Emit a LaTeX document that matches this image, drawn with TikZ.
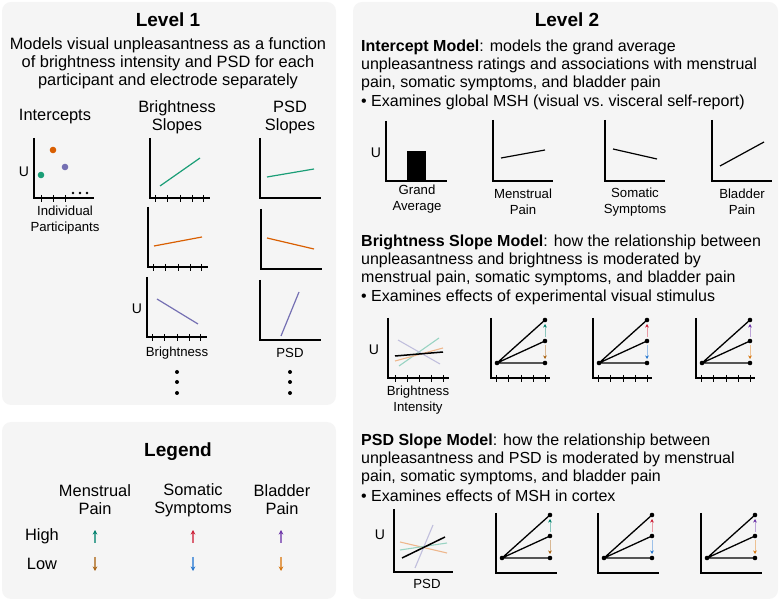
\documentclass[tikz,border=0pt]{standalone}
\usepackage{fontspec}
\setmainfont{Liberation Sans}
\usetikzlibrary{arrows.meta,calc,positioning}
\definecolor{panel}{RGB}{245,245,245}
\definecolor{dgreen}{RGB}{27,158,119}
\definecolor{dorange}{RGB}{217,95,2}
\definecolor{dpurple}{RGB}{117,112,179}
\definecolor{mhigh}{RGB}{0,128,108}
\definecolor{mlow}{RGB}{168,98,18}
\definecolor{shigh}{RGB}{204,32,56}
\definecolor{slow}{RGB}{38,118,206}
\definecolor{bhigh}{RGB}{108,52,168}
\definecolor{blow}{RGB}{214,118,16}
\tikzset{
  ttl/.style={font=\fontsize{19}{22}\selectfont\bfseries},
  txt/.style={font=\fontsize{16.4}{18}\selectfont,align=center},
  para/.style={font=\fontsize{16}{18.4}\selectfont,anchor=west,inner sep=0pt},
  lab/.style={font=\fontsize{13.2}{15.5}\selectfont,align=center},
  ulab/.style={font=\fontsize{14}{16}\selectfont},
  axln/.style={line width=1.6pt},
  tickln/.style={line width=0.9pt},
  dataln/.style={line width=1.2pt},
  fanln/.style={line width=1.3pt},
  pale/.style={line width=1.1pt,#1!45},
  fanarrow/.style={-{Stealth[length=3.5pt,width=3.5pt,color=#1]},#1!45,line width=1pt},
  legarrow/.style={-{Stealth[length=4.5pt,width=4.5pt,color=#1]},#1!70,line width=1.1pt}}
% L-shaped axes with three fanned lines and the two moderator arrows
\newcommand{\fanplot}[6]{%
  \draw[axln] (#1,#2-60) |- (#1+#3,#2);
  \ifnum#6=1 \foreach \t in {5,17,30,42,54} \draw[tickln] (#1+\t,#2-3) -- (#1+\t,#2+4);\fi
  \coordinate (fo) at (#1+6,#2-15); \coordinate (ft) at (#1+54,#2-58);
  \coordinate (fm) at (#1+54,#2-37); \coordinate (fb) at (#1+54,#2-15);
  \draw[fanln] (fo) -- (ft) (fo) -- (fm) (fo) -- (fb);
  \foreach \p in {fo,ft,fm,fb} \fill (\p) circle (2.3);
  \draw[fanarrow=#4] ($(fm)+(0,-4)$) -- ($(ft)+(0,4)$);
  \draw[fanarrow=#5] ($(fm)+(0,4)$) -- ($(fb)+(0,-4)$);}

\begin{document}
\begin{tikzpicture}[x=1pt,y=-1pt]
  \useasboundingbox (0,0) rectangle (780,601);
  \fill[panel,rounded corners=9pt] (2,2) rectangle (336,405);
  \fill[panel,rounded corners=9pt] (2,422) rectangle (336,599);
  \fill[panel,rounded corners=9pt] (353,2) rectangle (778,599);

  % Level 1
  \node[ttl] (lvla) at (168,20) {Level 1};
  \node[txt] (lvladesc) at (168,63) {Models visual unpleasantness as a function\\of brightness intensity and PSD for each\\participant and electrode separately};
  \node[txt] (icpt) at (55,117) {Intercepts};
  \node[txt] (bslp) at (177,117) {Brightness\\Slopes};
  \node[txt] (pslp) at (290,117) {PSD\\Slopes};
  \draw[axln] (34,138) |- (94,198);
  \foreach \x in {41,53,65} \draw[tickln] (\x,195) -- (\x,202);
  \foreach \x/\y/\c in {41/175/dgreen,53/150/dorange,65/167/dpurple} \fill[\c] (\x,\y) circle (3.3);
  \foreach \x in {73,80,87} \fill (\x,193) circle (1.4);
  \node[ulab] (icptu) at (24,172) {U};
  \node[lab] (indiv) at (65,220) {Individual\\Participants};
  \foreach \xo/\yo/\xa/\ya/\xb/\yb/\c in {150/198/160/186/200/158/dgreen,148/267/154/246/202/237/dorange,147/337/157/299/198/324/dpurple} {
    \draw[axln] (\xo,\yo-60) |- (\xo+60,\yo);
    \foreach \t in {5,17,30,42,53} \draw[tickln] (\xo+\t,\yo-3) -- (\xo+\t,\yo+4);
    \draw[dataln,\c] (\xa,\ya) -- (\xb,\yb);}
  \foreach \xo/\yo/\xa/\ya/\xb/\yb/\c in {260/198/267/177/314/169/dgreen,261/269/267/238/314/249/dorange,260/340/281/336/299/292/dpurple} {
    \draw[axln] (\xo,\yo-60) |- (\xo+61,\yo);
    \draw[dataln,\c] (\xa,\ya) -- (\xb,\yb);}
  \node[ulab] (bslpu) at (137,309) {U};
  \node[lab] (bslpx) at (177,353) {Brightness};
  \node[lab] (pslpx) at (290,353) {PSD};
  \foreach \x in {177,290} \foreach \y in {372,382,393} \fill (\x,\y) circle (2);

  % Legend
  \node[ttl] (lgd) at (178,452) {Legend};
  \foreach \x/\l/\n in {95/{Menstrual\\Pain}/mp,193/{Somatic\\Symptoms}/ss,282/{Bladder\\Pain}/bp} \node[txt] (\n) at (\x,500) {\l};
  \node[txt] (high) at (42,536) {High};
  \node[txt] (low) at (42,564) {Low};
  \foreach \x/\h/\l in {95/mhigh/mlow,193/shigh/slow,281/bhigh/blow} {
    \draw[legarrow=\h] (\x,543) -- (\x,530);
    \draw[legarrow=\l] (\x,557) -- (\x,571);}

  % Level 2
  \node[ttl] (lvlb) at (567,20) {Level 2};
  \foreach \t [count=\i] in {{\textbf{Intercept Model}: models the grand average},{unpleasantness ratings and associations with menstrual},{pain, somatic symptoms, and bladder pain},{• Examines global MSH (visual vs.\ visceral self-report)}}
    \node[para] (icm\i) at (361,{47+18.4*(\i-1)}) {\t};
  \foreach \t [count=\i] in {{\textbf{Brightness Slope Model}: how the relationship between},{unpleasantness and brightness is moderated by},{menstrual pain, somatic symptoms, and bladder pain},{• Examines effects of experimental visual stimulus}}
    \node[para] (bsm\i) at (361,{242+18.4*(\i-1)}) {\t};
  \foreach \t [count=\i] in {{\textbf{PSD Slope Model}: how the relationship between},{unpleasantness and PSD is moderated by menstrual},{pain, somatic symptoms, and bladder pain},{• Examines effects of MSH in cortex}}
    \node[para] (psm\i) at (361,{441+18.4*(\i-1)}) {\t};

  % intercept model
  \draw[axln] (386,121) |- (447,181);
  \fill (407,151) rectangle (426,181);
  \node[ulab] (grandu) at (376,153) {U};
  \node[lab] (grand) at (417,199) {Grand\\Average};
  \foreach \xo/\ya/\yb/\l/\n in {493/158/150/{Menstrual\\Pain}/mpl,605/149/159/{Somatic\\Symptoms}/ssl,712/166/142/{Bladder\\Pain}/bpl} {
    \draw[axln] (\xo,120) |- (\xo+60,181);
    \draw[dataln] (\xo+8,\ya) -- (\xo+52,\yb);
    \node[lab] (\n) at (\xo+30,202) {\l};}

  % brightness slope model
  \draw[axln] (388,318) |- (449,378);
  \foreach \t in {7,19,31,43,55} \draw[tickln] (388+\t,375) -- (388+\t,382);
  \draw[pale=dgreen] (399,366) -- (439,338);
  \draw[pale=dpurple] (398,340) -- (440,364);
  \draw[pale=dorange] (395,361) -- (443,348);
  \draw[line width=1.5pt] (395,356) -- (443,352);
  \node[ulab] (bsmu) at (374,350) {U};
  \node[lab] (bsmx) at (418,400) {Brightness\\Intensity};
  \foreach \xo/\h/\l in {491/mhigh/mlow,593/shigh/slow,696/bhigh/blow} {\fanplot{\xo}{378}{59}{\h}{\l}{1}}

  % PSD slope model
  \draw[axln] (394,509) |- (453,572);
  \draw[pale=dorange] (400,542) -- (447,553);
  \draw[pale=dgreen] (400,550) -- (447,543);
  \draw[pale=dpurple] (415,568) -- (433,525);
  \draw[line width=1.5pt] (402,558) -- (445,537);
  \node[ulab] (psmu) at (380,535) {U};
  \node[lab] (psmx) at (427,584) {PSD};
  \foreach \xo/\h/\l in {496/mhigh/mlow,598/shigh/slow,701/bhigh/blow} {\fanplot{\xo}{573}{61}{\h}{\l}{0}}
\end{tikzpicture}
\end{document}
